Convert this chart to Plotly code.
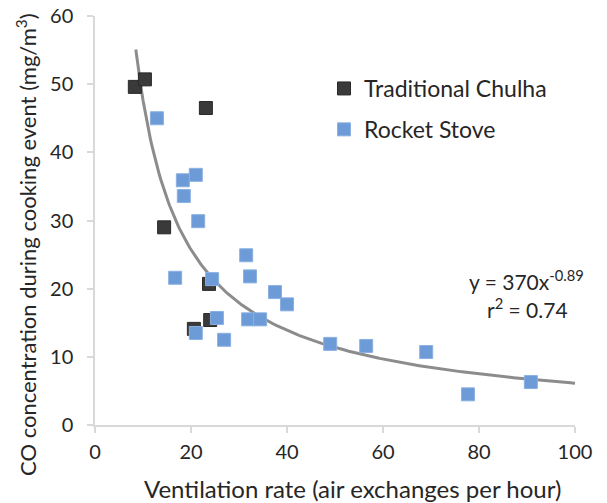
import numpy as np
import plotly.graph_objects as go

# Traditional Chulha
chulha_x = [8.3, 10.4, 23.1, 14.4, 23.75, 20.6, 24.0]
chulha_y = [49.6, 50.7, 46.5, 29.0, 20.7, 14.1, 15.4]

# Rocket Stove
rocket_x = [12.9, 21.0, 18.3, 18.5, 21.5, 16.7, 24.4, 31.5, 32.3, 37.5, 40.0,
            25.4, 21.0, 26.9, 31.9, 34.4, 49.0, 56.5, 69.0, 77.7, 90.8]
rocket_y = [45.0, 36.7, 35.9, 33.6, 29.9, 21.6, 21.4, 24.9, 21.8, 19.5, 17.7,
            15.7, 13.5, 12.5, 15.5, 15.5, 11.9, 11.6, 10.7, 4.5, 6.3]

# Power trendline y = a * x^b (as printed on the chart)
fit_a = 370
fit_b = -0.89
fit_xmin, fit_xmax = 8.5, 100

x_ticks = [0, 20, 40, 60, 80, 100]
y_ticks = [0, 10, 20, 30, 40, 50, 60]

FONT = "Lato, 'Open Sans', sans-serif"
TXT = "#262626"

W, H = 607, 503
PX0, PX1, PY0, PY1 = 95, 575, 16, 425
L, T = PX0, PY0
R = W - PX1
B = H - PY1


def px(xp, yp):
    return (xp - PX0) / (PX1 - PX0), (PY1 - yp) / (PY1 - PY0)


fx = np.linspace(fit_xmin, fit_xmax, 300)
fy = fit_a * fx ** fit_b

fig = go.Figure()
fig.add_trace(go.Scatter(x=fx, y=fy, mode="lines", line=dict(color="#8c8c8c", width=3),
                         showlegend=False, hoverinfo="skip"))
fig.add_trace(go.Scatter(x=chulha_x, y=chulha_y, mode="markers", name="Traditional Chulha",
                         legendgroup="a",
                         marker=dict(symbol="square", size=13, color="#3a3a3a",
                                     line=dict(color="#2a2a2a", width=1))))
fig.add_trace(go.Scatter(x=rocket_x, y=rocket_y, mode="markers", name="Rocket Stove",
                         legendgroup="b",
                         marker=dict(symbol="square", size=13, color="#6c9bd8",
                                     line=dict(color="#8ab0e2", width=1))))


def ann(xp, yp, text, size, angle=0):
    ax, ay = px(xp, yp)
    fig.add_annotation(x=ax, y=ay, xref="paper", yref="paper", showarrow=False,
                       xanchor="center", yanchor="middle", textangle=angle, text=text,
                       font=dict(family=FONT, size=size, color=TXT))


ann(526, 280, "y = 370x<sup>-0.89</sup>", 21)
ann(527, 308, "r<sup>2</sup> = 0.74", 21)
ann(352, 488, "Ventilation rate (air exchanges per hour)", 24)
ann(26, 245, "CO concentration during cooking event (mg/m<sup>3</sup>)", 22, -90)

axis_common = dict(showgrid=False, zeroline=False, showline=True, linecolor="#d9d9d9",
                   linewidth=1.5, ticks="outside", tickcolor="#d9d9d9", ticklen=6,
                   tickwidth=1.5, tickfont=dict(family=FONT, size=20, color=TXT),
                   automargin=False, ticklabeloverflow="allow")

lx, ly = px(324, 67)
fig.update_layout(
    width=W, height=H,
    margin=dict(l=L, r=R, t=T, b=B),
    plot_bgcolor="white", paper_bgcolor="white",
    font=dict(family=FONT, size=20, color=TXT),
    xaxis=dict(range=[0, 100], tickvals=x_ticks, ticklabelstandoff=2, **axis_common),
    yaxis=dict(range=[0, 60], tickvals=y_ticks, ticklabelstandoff=10, **axis_common),
    legend=dict(x=lx, y=ly, xanchor="left", yanchor="top", bgcolor="rgba(0,0,0,0)",
                font=dict(family=FONT, size=23, color=TXT), itemwidth=30, tracegroupgap=8),
)
fig.write_html("out.html", config={"displayModeBar": False},
               post_script="document.body.style.margin='0';")
